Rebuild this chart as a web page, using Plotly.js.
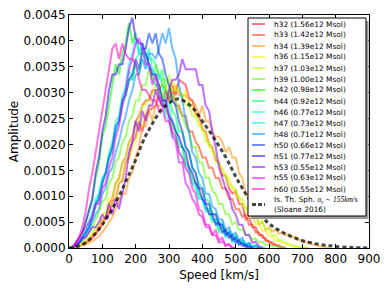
<!DOCTYPE html>
<html>
<head>
<meta charset="utf-8">
<script src="https://cdn.plot.ly/plotly-3.0.1.min.js"></script>
<style>html,body{margin:0;padding:0;background:#fff}#chart{width:390px;height:293px}</style>
</head>
<body>
<div id="chart"></div>
<script>
// Speed grid (km/s)
const speed = [0,10,20,30,40,50,60,70,80,90,100,110,120,130,140,150,160,170,180,190,200,210,220,230,240,250,260,270,280,290,300,310,320,330,340,350,360,370,380,390,400,410,420,430,440,450,460,470,480,490,500,510,520,530,540,550,560,570,580,590,600,610,620,630,640,650,660,670,680,690,700,710,720,730,740,750,760,770,780,790,800];

const haloNames  = ["h32","h33","h34","h36","h37","h39","h42","h44","h46","h47","h48","h50","h51","h53","h55","h60"];
const haloMasses = ["1.56e12","1.42e12","1.39e12","1.15e12","1.03e12","1.00e12","0.98e12","0.92e12","0.77e12","0.73e12","0.71e12","0.66e12","0.77e12","0.55e12","0.63e12","0.55e12"];

// Amplitudes, one value per speed bin
const h32 = [0,0,0.2e-4,0.4e-4,0.7e-4,1e-4,1.5e-4,2e-4,2.7e-4,3.5e-4,4.5e-4,6e-4,6.5e-4,9e-4,9.5e-4,12.5e-4,13e-4,16.5e-4,17.5e-4,20.5e-4,21.5e-4,24.5e-4,22.5e-4,25.5e-4,26.5e-4,27e-4,27.5e-4,29.5e-4,27.5e-4,30.5e-4,28.5e-4,31.5e-4,29.5e-4,32.5e-4,32e-4,31.5e-4,29e-4,28.5e-4,26e-4,25.5e-4,23e-4,22.5e-4,20e-4,19.5e-4,17e-4,16.5e-4,14e-4,14e-4,11.5e-4,10.5e-4,11e-4,8.5e-4,8.5e-4,5.5e-4,6e-4,4e-4,4e-4,2.5e-4,2.5e-4,1.4e-4,1.3e-4,0.7e-4,0.6e-4,0.2e-4,0.2e-4,0];
const h33 = [0,0,0.2e-4,0.5e-4,0.8e-4,1.2e-4,1.7e-4,2.3e-4,3e-4,4e-4,5.5e-4,6e-4,8.5e-4,9.5e-4,12.5e-4,13.5e-4,16.5e-4,17.5e-4,20.5e-4,21.5e-4,24.5e-4,25.5e-4,27.5e-4,28.5e-4,28.5e-4,30.5e-4,30.5e-4,30.5e-4,31.5e-4,30.5e-4,28.5e-4,30.5e-4,27.5e-4,27.5e-4,25.5e-4,25.5e-4,22.5e-4,22.5e-4,20.5e-4,19.5e-4,17.5e-4,17.5e-4,15.5e-4,15.5e-4,13.5e-4,13.5e-4,11.5e-4,11.5e-4,9.5e-4,9.5e-4,7.5e-4,7.5e-4,6e-4,6.5e-4,4.5e-4,4.5e-4,3e-4,3e-4,2e-4,1.9e-4,1.1e-4,1.1e-4,0.6e-4,0.5e-4,0.1e-4,0];
const h34 = [0,0,0.1e-4,0.3e-4,0.5e-4,0.7e-4,1e-4,1.3e-4,1.8e-4,2.3e-4,3e-4,4e-4,5e-4,6e-4,7.5e-4,9e-4,10.5e-4,10.5e-4,13.5e-4,14.5e-4,17.5e-4,19.5e-4,23.5e-4,23.5e-4,26.5e-4,24.5e-4,27.5e-4,27.5e-4,27.5e-4,28.5e-4,30.5e-4,28.5e-4,31.5e-4,29.5e-4,29.5e-4,29.5e-4,28.5e-4,28.5e-4,27.5e-4,25.5e-4,27.5e-4,24.5e-4,24.5e-4,22.5e-4,21.5e-4,21.5e-4,20.5e-4,18.5e-4,19.5e-4,17.5e-4,17.5e-4,14.5e-4,13.5e-4,10.5e-4,9.5e-4,7e-4,6.5e-4,4.5e-4,5e-4,3.5e-4,4e-4,3.2e-4,3.6e-4,2.7e-4,3.1e-4,2.5e-4,2.7e-4,2e-4,2.2e-4,1.5e-4,1.6e-4,1.1e-4,1.1e-4,0.7e-4,0.6e-4,0.4e-4,0.3e-4,0.1e-4,0];
const h36 = [0,0,0.2e-4,0.4e-4,0.8e-4,1.2e-4,1.8e-4,2.5e-4,3.3e-4,4.2e-4,5e-4,6.5e-4,7e-4,9.5e-4,9.5e-4,12.5e-4,13.5e-4,16.5e-4,17e-4,19.5e-4,20.5e-4,23.5e-4,23.5e-4,26.5e-4,26.5e-4,28.5e-4,28.5e-4,30.5e-4,28.5e-4,31.5e-4,29.5e-4,32.5e-4,30.5e-4,30.5e-4,28.5e-4,30.5e-4,27.5e-4,27.5e-4,25.5e-4,24.5e-4,22.5e-4,22.5e-4,19.5e-4,19.5e-4,16.5e-4,16.5e-4,14.5e-4,14.5e-4,12e-4,12e-4,10e-4,10e-4,8e-4,8e-4,6e-4,6.5e-4,4.5e-4,4.8e-4,3.3e-4,3.3e-4,2.2e-4,2.2e-4,1.4e-4,1.4e-4,0.9e-4,0.9e-4,0.5e-4,0.5e-4,0.2e-4,0.3e-4,0.05e-4,0.1e-4,0];
const h37 = [0,0,0.2e-4,0.5e-4,1e-4,1.5e-4,2e-4,3e-4,4e-4,5e-4,6.5e-4,7e-4,9.5e-4,10e-4,12.5e-4,13.5e-4,16.5e-4,17.5e-4,20.5e-4,21.5e-4,23.5e-4,24.5e-4,27.5e-4,27.5e-4,29.5e-4,29.5e-4,31.5e-4,29.5e-4,32.5e-4,30.5e-4,33.5e-4,30.5e-4,30.5e-4,30.5e-4,29.5e-4,27.5e-4,27.5e-4,25.5e-4,25.5e-4,23.5e-4,23.5e-4,20.5e-4,20.5e-4,18.5e-4,18e-4,16e-4,15.5e-4,13.5e-4,13.5e-4,11.5e-4,11.5e-4,9.5e-4,9.5e-4,7.5e-4,8e-4,6.5e-4,6.5e-4,4.8e-4,5.2e-4,3.5e-4,3.6e-4,2.4e-4,2.5e-4,1.5e-4,1.5e-4,0.9e-4,0.8e-4,0.4e-4,0.4e-4,0.1e-4,0.15e-4,0.02e-4,0];
const h39 = [0,0,0.3e-4,0.8e-4,1.5e-4,2e-4,3e-4,4e-4,5.5e-4,7e-4,9e-4,9.5e-4,12.5e-4,13.5e-4,16.5e-4,17.5e-4,20.5e-4,21.5e-4,24.5e-4,25.5e-4,28.5e-4,28.5e-4,31.5e-4,31.5e-4,34.5e-4,32.5e-4,35.5e-4,33.5e-4,32.5e-4,32.5e-4,31.5e-4,29.5e-4,28.5e-4,26.5e-4,25.5e-4,23.5e-4,22.5e-4,19.5e-4,19.5e-4,16.5e-4,16.5e-4,13.5e-4,13.5e-4,11e-4,10.5e-4,8.5e-4,8.5e-4,6.5e-4,6.5e-4,4.5e-4,5e-4,3.5e-4,3.6e-4,2.5e-4,2.6e-4,1.7e-4,1.8e-4,1.1e-4,1.2e-4,0.6e-4,0.7e-4,0.3e-4,0.4e-4,0.1e-4,0.15e-4,0];
const h42 = [0,0.3e-4,1e-4,2e-4,3e-4,5e-4,7.5e-4,9.5e-4,13.5e-4,16.5e-4,21.5e-4,23.5e-4,27.5e-4,31.5e-4,35.5e-4,33.5e-4,37.5e-4,39.5e-4,43.5e-4,39.5e-4,41.5e-4,37.5e-4,37.5e-4,37.5e-4,35.5e-4,32.5e-4,31.5e-4,31.5e-4,29.5e-4,26.5e-4,25.5e-4,23.5e-4,22.5e-4,19.5e-4,19.5e-4,16.5e-4,15.5e-4,13.5e-4,12.5e-4,10.5e-4,9.5e-4,7.5e-4,7.5e-4,5.5e-4,5.5e-4,3.5e-4,4e-4,2.5e-4,3e-4,1.5e-4,2e-4,1e-4,1.3e-4,0.5e-4,0.7e-4,0.1e-4,0.3e-4,0];
const h44 = [0,0,0.5e-4,1e-4,2e-4,3e-4,4e-4,6e-4,8e-4,10e-4,12.5e-4,14.5e-4,17.5e-4,19.5e-4,22.5e-4,24.5e-4,27.5e-4,29.5e-4,32.5e-4,32.5e-4,35.5e-4,33.5e-4,37.5e-4,37.5e-4,36.5e-4,36.5e-4,35.5e-4,32.5e-4,34.5e-4,30.5e-4,29.5e-4,26.5e-4,25.5e-4,22.5e-4,22.5e-4,19.5e-4,18.5e-4,15.5e-4,14.5e-4,12.5e-4,11.5e-4,9.5e-4,9e-4,6.5e-4,6.5e-4,4.5e-4,5e-4,3e-4,3.5e-4,2e-4,2.5e-4,1e-4,1.5e-4,0.6e-4,0.9e-4,0.2e-4,0.5e-4,0.1e-4,0.2e-4,0];
const h46 = [0,0,0.5e-4,1e-4,2e-4,3e-4,4.5e-4,6e-4,8.5e-4,10.5e-4,13.5e-4,14.5e-4,18.5e-4,20.5e-4,24.5e-4,25.5e-4,29.5e-4,30.5e-4,34.5e-4,32.5e-4,36.5e-4,37.5e-4,39.5e-4,36.5e-4,38.5e-4,34.5e-4,33.5e-4,33.5e-4,31.5e-4,28.5e-4,27.5e-4,24.5e-4,23.5e-4,20.5e-4,19.5e-4,16.5e-4,15.5e-4,12.5e-4,12.5e-4,9.5e-4,9.5e-4,7e-4,7e-4,5e-4,5e-4,3e-4,3.5e-4,2e-4,2.5e-4,1e-4,1.5e-4,0.7e-4,1e-4,0.3e-4,0.5e-4,0.1e-4,0];
const h47 = [0,0,0.5e-4,1e-4,2e-4,3.5e-4,5e-4,7e-4,9.5e-4,10.5e-4,13.5e-4,14.5e-4,17.5e-4,18.5e-4,22.5e-4,24.5e-4,28.5e-4,31.5e-4,35.5e-4,37.5e-4,40.5e-4,37.5e-4,39.5e-4,35.5e-4,34.5e-4,34.5e-4,32.5e-4,29.5e-4,28.5e-4,25.5e-4,24.5e-4,21.5e-4,21.5e-4,18.5e-4,17.5e-4,15.5e-4,14.5e-4,12.5e-4,11.5e-4,9.5e-4,9.5e-4,7.5e-4,7.5e-4,5.5e-4,5.5e-4,4e-4,4.5e-4,2.5e-4,3e-4,1.5e-4,2.2e-4,1.2e-4,1.5e-4,0.8e-4,1e-4,0.3e-4,0.5e-4,0.1e-4,0];
const h48 = [0,0,0.5e-4,1e-4,1.5e-4,2.5e-4,3.5e-4,5e-4,6.5e-4,7.5e-4,10.5e-4,11.5e-4,14.5e-4,15.5e-4,18.5e-4,20.5e-4,23.5e-4,25.5e-4,28.5e-4,30.5e-4,33.5e-4,33.5e-4,36.5e-4,34.5e-4,37.5e-4,37.5e-4,36.5e-4,38.5e-4,41.5e-4,39.5e-4,42.5e-4,38.5e-4,36.5e-4,31.5e-4,28.5e-4,24.5e-4,22.5e-4,18.5e-4,17.5e-4,14.5e-4,13.5e-4,10.5e-4,10.5e-4,8e-4,7.5e-4,5.5e-4,5.5e-4,3.5e-4,4e-4,2.5e-4,3e-4,1.5e-4,2e-4,0.6e-4,1e-4,0.1e-4,0.4e-4,0];
const h50 = [0,0,0.5e-4,1e-4,2e-4,3e-4,4e-4,6e-4,8.5e-4,9.5e-4,12.5e-4,14.5e-4,17.5e-4,19.5e-4,23.5e-4,24.5e-4,28.5e-4,29.5e-4,32.5e-4,33.5e-4,36.5e-4,34.5e-4,38.5e-4,38.5e-4,41.5e-4,39.5e-4,41.5e-4,37.5e-4,36.5e-4,33.5e-4,31.5e-4,28.5e-4,27.5e-4,24.5e-4,22.5e-4,19.5e-4,18.5e-4,15.5e-4,14.5e-4,11.5e-4,11.5e-4,8.5e-4,8.5e-4,6.5e-4,6.5e-4,4.5e-4,4.5e-4,2.5e-4,3e-4,1.5e-4,2e-4,0.6e-4,1e-4,0.1e-4,0.4e-4,0];
const h51 = [0,0,1e-4,2e-4,3e-4,5e-4,7.5e-4,9.5e-4,14.5e-4,17.5e-4,22.5e-4,25.5e-4,30.5e-4,33.5e-4,33.5e-4,35.5e-4,35.5e-4,38.5e-4,42.5e-4,44.5e-4,40.5e-4,39.5e-4,39.5e-4,37.5e-4,35.5e-4,33.5e-4,33.5e-4,31.5e-4,28.5e-4,28.5e-4,25.5e-4,24.5e-4,22.5e-4,21.5e-4,19.5e-4,18.5e-4,15.5e-4,14.5e-4,12.5e-4,11.5e-4,9.5e-4,8.5e-4,6.5e-4,6.5e-4,4.5e-4,5e-4,3e-4,3.5e-4,2e-4,2.5e-4,1e-4,1.5e-4,0.4e-4,0.6e-4,0,0];
const h53 = [0,0,0.5e-4,1e-4,2e-4,2e-4,3e-4,4e-4,4e-4,5e-4,6.5e-4,5.5e-4,8.5e-4,6.5e-4,9.5e-4,7.5e-4,10.5e-4,13.5e-4,18.5e-4,20.5e-4,24.5e-4,22.5e-4,26.5e-4,24.5e-4,27.5e-4,27.5e-4,30.5e-4,28.5e-4,27.5e-4,27.5e-4,30.5e-4,32.5e-4,32.5e-4,33.5e-4,36.5e-4,34.5e-4,34.5e-4,34.5e-4,34.5e-4,31.5e-4,31.5e-4,27.5e-4,26.5e-4,22.5e-4,19.5e-4,15.5e-4,13.5e-4,11.5e-4,10.5e-4,7.5e-4,6.5e-4,4.5e-4,4.5e-4,2.5e-4,2.5e-4,1e-4,1.2e-4,0.3e-4,0];
const h55 = [0,0,1e-4,1.5e-4,3e-4,4e-4,5e-4,6e-4,8.5e-4,8.5e-4,11.5e-4,12.5e-4,15.5e-4,17.5e-4,21.5e-4,23.5e-4,27.5e-4,30.5e-4,34.5e-4,36.5e-4,39.5e-4,40.5e-4,38.5e-4,35.5e-4,35.5e-4,31.5e-4,33.5e-4,29.5e-4,27.5e-4,27.5e-4,25.5e-4,21.5e-4,20.5e-4,16.5e-4,16.5e-4,12.5e-4,11.5e-4,9.5e-4,8.5e-4,6.5e-4,6e-4,4e-4,4e-4,2.5e-4,2.5e-4,1e-4,1.3e-4,0.4e-4,0.6e-4,0,0];
const h60 = [0,0,1e-4,2e-4,4e-4,7e-4,11.5e-4,14.5e-4,18.5e-4,22.5e-4,26.5e-4,30.5e-4,34.5e-4,38.5e-4,39.5e-4,36.5e-4,39.5e-4,37.5e-4,36.5e-4,36.5e-4,35.5e-4,32.5e-4,30.5e-4,30.5e-4,29.5e-4,28.5e-4,28.5e-4,26.5e-4,27e-4,24.5e-4,24.5e-4,22.5e-4,21.5e-4,18.5e-4,17.5e-4,15.5e-4,14.5e-4,11.5e-4,10.5e-4,7.5e-4,7e-4,4.5e-4,4.5e-4,2.5e-4,3.5e-4,1.5e-4,2e-4,0.5e-4,0.8e-4,0,0];

// Isothermal sphere model (Sloane 2016)
const modelSpeed = [0,25,50,75,100,125,150,175,200,225,250,275,300,325,350,375,400,425,450,475,500,525,550,575,600,625,650,675,700,725,750,775,800,850,900];
const modelAmp   = [0,0.3e-4,1e-4,2.5e-4,4.5e-4,7e-4,10e-4,13.5e-4,17e-4,21e-4,24e-4,26.5e-4,28e-4,28.8e-4,28.2e-4,26.8e-4,24.5e-4,22.2e-4,19.7e-4,17e-4,13.8e-4,11e-4,8.5e-4,6.3e-4,4.7e-4,3.6e-4,2.7e-4,2e-4,1.4e-4,1e-4,0.7e-4,0.5e-4,0.3e-4,0.1e-4,0];

const haloSeries = [h32,h33,h34,h36,h37,h39,h42,h44,h46,h47,h48,h50,h51,h53,h55,h60];

// styles
const rgb = [[255,0,41],[255,50,0],[255,142,0],[255,234,0],[184,255,0],[92,255,0],[0,255,0],[0,255,91],[0,255,183],[0,236,255],[0,143,255],[0,51,255],[42,0,255],[134,0,255],[226,0,255],[255,0,191]];
const ALPHA = 0.55;
const col = c => `rgba(${c[0]},${c[1]},${c[2]},${ALPHA})`;

const traces = haloSeries.map((ys, i) => ({
  type: 'scatter', mode: 'lines',
  x: speed.slice(0, ys.length), y: ys,
  name: `${haloNames[i]} (${haloMasses[i]} Msol)`,
  line: {color: col(rgb[i]), width: 2},
  showlegend: false, hoverinfo: 'skip'
}));
traces.push({
  type: 'scatter', mode: 'lines', x: modelSpeed, y: modelAmp,
  line: {color: 'rgba(0,0,0,0.72)', width: 3, dash: '4px,3px', shape: 'spline', smoothing: 1},
  showlegend: false, hoverinfo: 'skip'
});

// plot area geometry (px)
const L = 69, T = 15, W = 300, H = 233;
const px = x => (x - L) / W;
const py = y => (T + H - y) / H;

const shapes = [
  {type:'rect', xref:'paper', yref:'paper', x0:px(251), x1:px(368.5), y0:py(219), y1:py(21), fillcolor:'#9a9a9a', line:{width:0}},
  {type:'rect', xref:'paper', yref:'paper', x0:px(248), x1:px(366), y0:py(216), y1:py(18), fillcolor:'#ffffff', line:{color:'#000', width:1}}
];
const annotations = [];
const font = {family:'DejaVu Sans', size:7.4, color:'#000'};
haloNames.forEach((n, i) => {
  const yc = 24 + i * 11;
  shapes.push({type:'line', xref:'paper', yref:'paper', x0:px(252), x1:px(265), y0:py(yc), y1:py(yc), line:{color:col(rgb[i]), width:2}});
  annotations.push({xref:'paper', yref:'paper', x:px(272), y:py(yc), xanchor:'left', yanchor:'middle', showarrow:false, text:`${n} (${haloMasses[i]} Msol)`, font});
});
shapes.push({type:'line', xref:'paper', yref:'paper', x0:px(252), x1:px(265), y0:py(204.5), y1:py(204.5), line:{color:'rgba(0,0,0,0.72)', width:3, dash:'4px,2px'}});
annotations.push({xref:'paper', yref:'paper', x:px(272), y:py(204.5), xanchor:'left', yanchor:'middle', align:'left', showarrow:false,
  text:'Is. Th. Sph. <span style="font-family:\'Liberation Serif\'"><i>σ<sub>v</sub></i> ∼ <i>155km/s</i></span><br>(Sloane 2016)', font});

const axisCommon = {
  showgrid:false, zeroline:false, showline:true, linecolor:'#000', linewidth:1, mirror:'ticks',
  ticks:'inside', ticklen:4, tickwidth:1, tickcolor:'#000',
  tickfont:{family:'DejaVu Sans', size:12, color:'#000'}
};
const layout = {
  width:390, height:293,
  margin:{l:L, r:390-L-W, t:T, b:293-T-H},
  paper_bgcolor:'#fff', plot_bgcolor:'#fff',
  font:{family:'DejaVu Sans', color:'#000'},
  xaxis: Object.assign({}, axisCommon, {range:[0,900], dtick:100, tick0:0,
    title:{text:'Speed [km/s]', font:{family:'DejaVu Sans', size:12, color:'#000'}, standoff:5}}),
  yaxis: Object.assign({}, axisCommon, {range:[0,0.0045], dtick:0.0005, tick0:0, tickformat:'.4f',
    title:{text:'Amplitude', font:{family:'DejaVu Sans', size:12, color:'#000'}, standoff:2}}),
  shapes, annotations, showlegend:false
};
Plotly.newPlot('chart', traces, layout, {staticPlot:true, displayModeBar:false});
</script>
</body>
</html>
